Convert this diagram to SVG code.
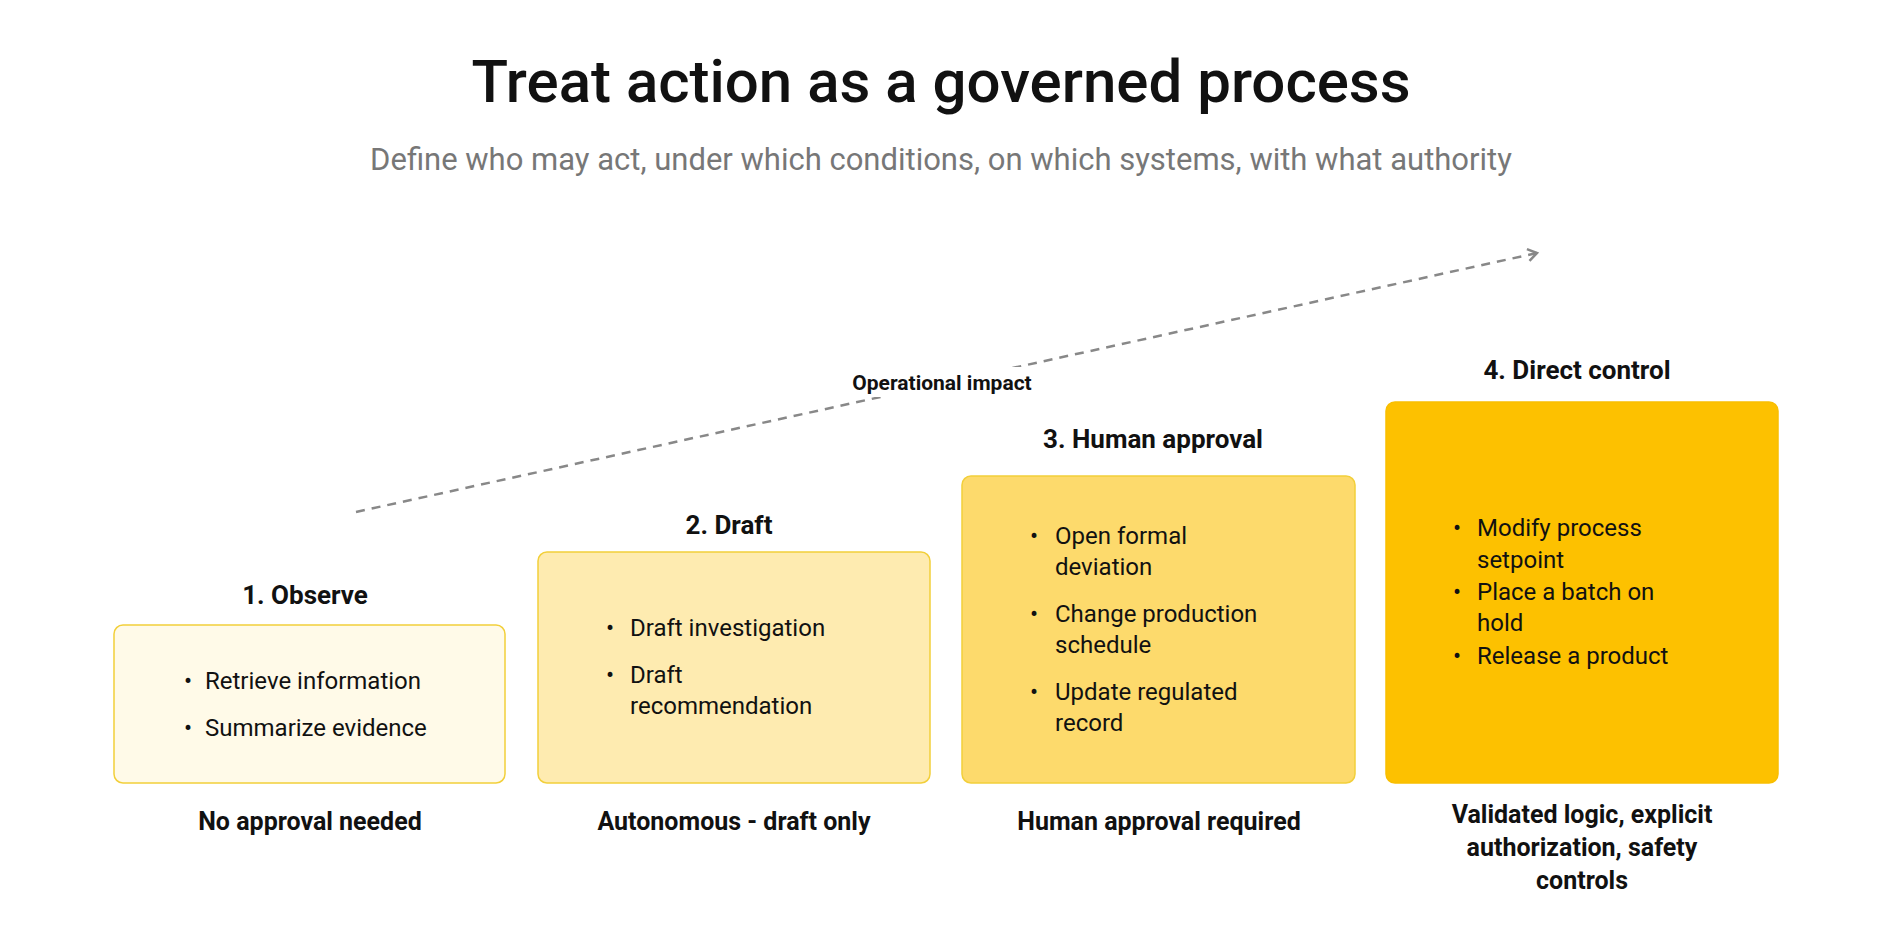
<svg xmlns="http://www.w3.org/2000/svg" width="1883" height="942" viewBox="0 0 1883 942">
<defs>
<style>
text{font-family:Roboto,"Liberation Sans",sans-serif;fill:#111}
.t{font-size:26px;font-weight:700;text-anchor:middle}
.b{font-size:24px}
.l{font-size:25px;font-weight:700;text-anchor:middle}
.box{stroke:#f2cf3a;stroke-width:1.5}
</style>
<marker id="ah" markerWidth="14" markerHeight="14" refX="11" refY="7" orient="auto" markerUnits="userSpaceOnUse"><path d="M2,1 L11,7 L2,13" fill="none" stroke="#888" stroke-width="2.5"/></marker>
</defs>
<rect width="1883" height="942" fill="#fff"/>
<text x="941" y="102" style="font-size:60px;font-weight:500;text-anchor:middle">Treat action as a governed process</text>
<text x="941" y="170" style="font-size:31px;fill:#777;text-anchor:middle">Define who may act, under which conditions, on which systems, with what authority</text>
<g id="connectors">
<line x1="356" y1="512" x2="1537" y2="253" stroke="#888" stroke-width="2.5" stroke-dasharray="9,7" marker-end="url(#ah)"/>
<rect x="830" y="367" width="224" height="30" fill="#fff"/>
<text x="942" y="390" style="font-size:21px;font-weight:700;text-anchor:middle">Operational impact</text>
</g>
<g id="n1">
<text class="t" x="305" y="604">1. Observe</text>
<rect class="box" x="114" y="625" width="391" height="158" rx="9" fill="#fffae8"/>
<text class="b" x="184" y="689">•</text><text class="b" x="205" y="689">Retrieve information</text>
<text class="b" x="184" y="736">•</text><text class="b" x="205" y="736">Summarize evidence</text>
<text class="l" x="310" y="830">No approval needed</text>
</g>
<g id="n2">
<text class="t" x="729" y="534">2. Draft</text>
<rect class="box" x="538" y="552" width="392" height="231" rx="9" fill="#feebb0"/>
<text class="b" x="606" y="636">•</text><text class="b" x="630" y="636">Draft investigation</text>
<text class="b" x="606" y="683">•</text><text class="b" x="630" y="683">Draft</text>
<text class="b" x="630" y="714">recommendation</text>
<text class="l" x="734" y="830">Autonomous - draft only</text>
</g>
<g id="n3">
<text class="t" x="1153" y="448">3. Human approval</text>
<rect class="box" x="962" y="476" width="393" height="307" rx="9" fill="#fdda6c"/>
<text class="b" x="1030" y="544">•</text><text class="b" x="1055" y="544">Open formal</text>
<text class="b" x="1055" y="575">deviation</text>
<text class="b" x="1030" y="622">•</text><text class="b" x="1055" y="622">Change production</text>
<text class="b" x="1055" y="653">schedule</text>
<text class="b" x="1030" y="700">•</text><text class="b" x="1055" y="700">Update regulated</text>
<text class="b" x="1055" y="731">record</text>
<text class="l" x="1159" y="830">Human approval required</text>
</g>
<g id="n4">
<text class="t" x="1577" y="379">4. Direct control</text>
<rect x="1386" y="402" width="392" height="381" rx="9" fill="#fdc100" stroke="#f9be00" stroke-width="1.5"/>
<text class="b" x="1453" y="536">•</text><text class="b" x="1477" y="536">Modify process</text>
<text class="b" x="1477" y="568">setpoint</text>
<text class="b" x="1453" y="600">•</text><text class="b" x="1477" y="600">Place a batch on</text>
<text class="b" x="1477" y="631">hold</text>
<text class="b" x="1453" y="664">•</text><text class="b" x="1477" y="664">Release a product</text>
<text class="l" x="1582" y="823">Validated logic, explicit</text>
<text class="l" x="1582" y="856">authorization, safety</text>
<text class="l" x="1582" y="889">controls</text>
</g>
</svg>
